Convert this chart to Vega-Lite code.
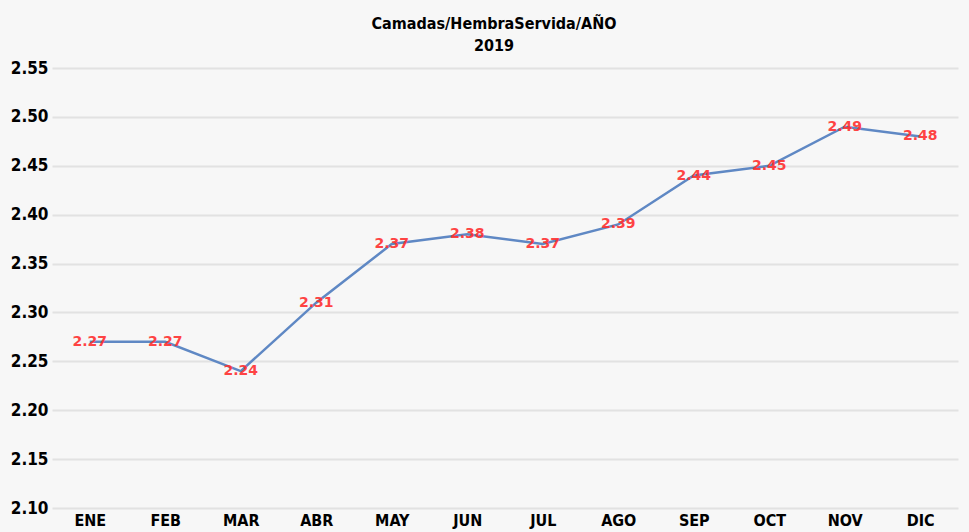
{
  "$schema": "https://vega.github.io/schema/vega-lite/v6.json",
  "autosize": {"type": "none"},
  "width": 906,
  "height": 440,
  "padding": {"left": 52, "top": 68, "right": 11, "bottom": 24},
  "background": "#f7f7f7",
  "view": {"stroke": null, "fill": "#f7f7f7"},
  "title": {
    "text": ["Camadas/HembraServida/AÑO", "2019"],
    "anchor": "middle",
    "dx": -11,
    "offset": 5,
    "font": "DejaVu Sans Condensed, sans-serif",
    "fontSize": 16,
    "fontWeight": "bold",
    "lineHeight": 22,
    "color": "#000000"
  },
  "data": {
    "values": [
      {"mes": "ENE", "valor": 2.27},
      {"mes": "FEB", "valor": 2.27},
      {"mes": "MAR", "valor": 2.24},
      {"mes": "ABR", "valor": 2.31},
      {"mes": "MAY", "valor": 2.37},
      {"mes": "JUN", "valor": 2.38},
      {"mes": "JUL", "valor": 2.37},
      {"mes": "AGO", "valor": 2.39},
      {"mes": "SEP", "valor": 2.44},
      {"mes": "OCT", "valor": 2.45},
      {"mes": "NOV", "valor": 2.49},
      {"mes": "DIC", "valor": 2.48}
    ]
  },
  "encoding": {
    "x": {
      "field": "mes",
      "type": "ordinal",
      "sort": null,
      "scale": {"type": "point", "padding": 0.5},
      "axis": {
        "title": null,
        "domain": false,
        "ticks": false,
        "grid": false,
        "labelAngle": 0,
        "labelPadding": 4,
        "labelFont": "DejaVu Sans Condensed, sans-serif",
        "labelFontSize": 16,
        "labelFontWeight": "bold",
        "labelColor": "#000000"
      }
    },
    "y": {
      "field": "valor",
      "type": "quantitative",
      "scale": {"domain": [2.1, 2.55], "nice": false, "zero": false},
      "axis": {
        "title": null,
        "domain": false,
        "ticks": false,
        "values": [2.1, 2.15, 2.2, 2.25, 2.3, 2.35, 2.4, 2.45, 2.5, 2.55],
        "format": ".2f",
        "grid": true,
        "gridColor": "#e2e2e2",
        "gridWidth": 2,
        "labelPadding": 4,
        "labelFont": "DejaVu Sans Condensed, sans-serif",
        "labelFontSize": 17,
        "labelFontWeight": "bold",
        "labelColor": "#000000"
      }
    }
  },
  "layer": [
    {
      "mark": {"type": "line", "color": "#5f88c4", "strokeWidth": 2.5}
    },
    {
      "mark": {
        "type": "text",
        "font": "DejaVu Sans",
        "fontSize": 14,
        "fontWeight": "bold",
        "color": "#ff3030",
        "opacity": 0.9,
        "baseline": "middle",
        "align": "center"
      },
      "encoding": {
        "text": {"field": "valor", "type": "quantitative", "format": ".2f"}
      }
    }
  ]
}
